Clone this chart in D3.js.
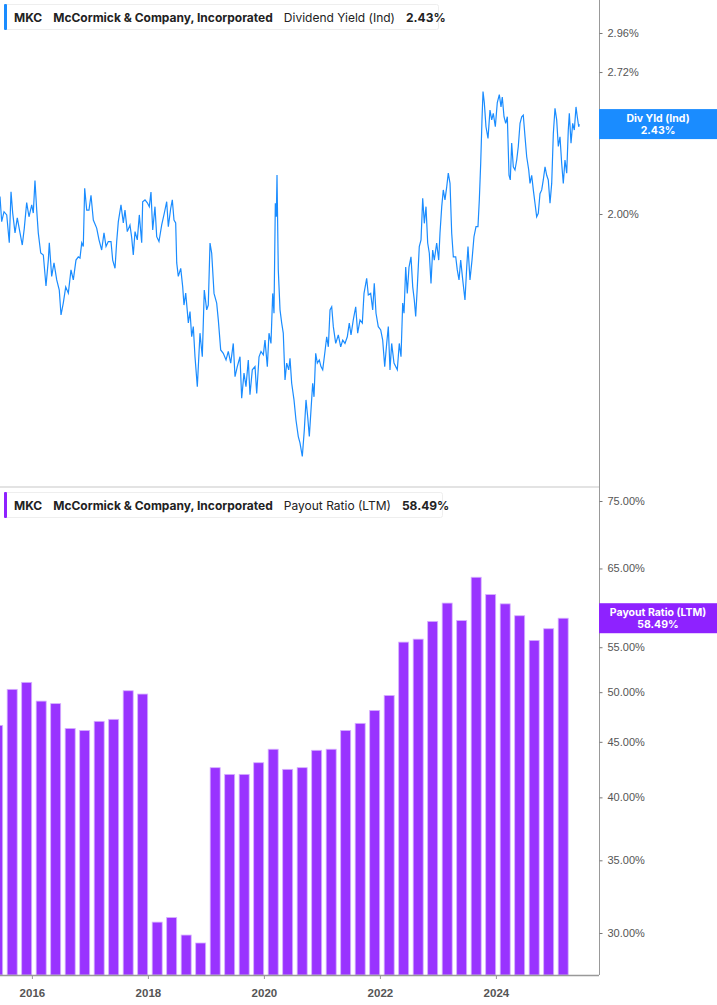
<!DOCTYPE html>
<html><head><meta charset="utf-8">
<script src="https://cdn.jsdelivr.net/npm/d3@7"></script>
<style>body{margin:0;background:#fff}svg{display:block;font-family:Inter,"Noto Sans",sans-serif}</style>
</head><body><svg id="c" width="717" height="1005"></svg>
<script>
const yieldDates=[2015.450,2015.479,2015.519,2015.566,2015.610,2015.640,2015.669,2015.709,2015.748,2015.795,2015.834,2015.869,2015.910,2015.950,2015.997,2016.024,2016.053,2016.083,2016.110,2016.152,2016.197,2016.243,2016.283,2016.300,2016.341,2016.381,2016.428,2016.472,2016.502,2016.541,2016.583,2016.628,2016.674,2016.714,2016.760,2016.800,2016.829,2016.859,2016.886,2016.910,2016.945,2016.984,2017.019,2017.059,2017.117,2017.157,2017.203,2017.243,2017.278,2017.317,2017.364,2017.393,2017.433,2017.462,2017.490,2017.536,2017.576,2017.605,2017.645,2017.691,2017.721,2017.748,2017.778,2017.817,2017.852,2017.893,2017.910,2017.950,2017.990,2018.024,2018.053,2018.083,2018.122,2018.152,2018.191,2018.238,2018.283,2018.324,2018.352,2018.393,2018.421,2018.450,2018.479,2018.497,2018.524,2018.566,2018.600,2018.622,2018.652,2018.697,2018.726,2018.755,2018.783,2018.812,2018.852,2018.898,2018.938,2018.972,2019.014,2019.041,2019.071,2019.100,2019.140,2019.186,2019.214,2019.255,2019.300,2019.347,2019.386,2019.428,2019.472,2019.502,2019.541,2019.588,2019.617,2019.657,2019.691,2019.731,2019.760,2019.800,2019.847,2019.876,2019.916,2019.950,2019.990,2020.019,2020.059,2020.088,2020.122,2020.152,2020.174,2020.197,2020.214,2020.226,2020.248,2020.278,2020.307,2020.334,2020.364,2020.393,2020.428,2020.450,2020.479,2020.519,2020.553,2020.593,2020.622,2020.662,2020.697,2020.726,2020.755,2020.783,2020.812,2020.841,2020.864,2020.893,2020.921,2020.955,2020.984,2021.014,2021.053,2021.083,2021.111,2021.140,2021.169,2021.197,2021.238,2021.283,2021.324,2021.359,2021.398,2021.438,2021.472,2021.502,2021.541,2021.583,2021.617,2021.657,2021.697,2021.726,2021.772,2021.800,2021.841,2021.876,2021.903,2021.933,2021.972,2022.014,2022.048,2022.083,2022.117,2022.145,2022.174,2022.203,2022.243,2022.300,2022.334,2022.364,2022.393,2022.416,2022.445,2022.472,2022.502,2022.536,2022.566,2022.593,2022.617,2022.645,2022.679,2022.709,2022.738,2022.766,2022.795,2022.824,2022.852,2022.881,2022.910,2022.938,2022.979,2023.014,2023.036,2023.066,2023.093,2023.122,2023.152,2023.179,2023.209,2023.238,2023.266,2023.307,2023.334,2023.364,2023.393,2023.428,2023.467,2023.497,2023.519,2023.553,2023.588,2023.622,2023.657,2023.691,2023.714,2023.738,2023.760,2023.778,2023.800,2023.829,2023.864,2023.898,2023.928,2023.955,2023.990,2024.024,2024.059,2024.088,2024.110,2024.140,2024.169,2024.197,2024.226,2024.248,2024.272,2024.300,2024.329,2024.359,2024.386,2024.416,2024.445,2024.472,2024.502,2024.531,2024.566,2024.588,2024.617,2024.645,2024.674,2024.703,2024.731,2024.760,2024.790,2024.817,2024.847,2024.876,2024.903,2024.933,2024.962,2024.990,2025.019,2025.048,2025.076,2025.105,2025.134,2025.162,2025.191,2025.221,2025.248,2025.266,2025.295,2025.324,2025.352,2025.381,2025.403,2025.428,2025.438];
const yieldValues=[2.077,1.967,2.010,1.996,1.879,2.099,2.004,1.920,1.983,1.920,1.870,1.940,2.050,1.988,2.040,2.004,2.150,2.017,1.920,1.838,1.830,1.711,1.810,1.879,1.747,1.799,1.734,1.696,1.607,1.649,1.708,1.685,1.772,1.734,1.810,1.823,1.818,1.879,1.864,2.115,2.017,2.017,2.083,1.974,1.940,1.891,1.850,1.920,1.864,1.884,1.884,1.810,1.778,1.884,1.967,2.040,1.962,2.017,1.925,1.953,1.899,1.830,1.925,1.891,1.996,1.879,2.054,2.062,2.049,2.032,2.097,1.932,2.032,1.904,1.884,1.953,2.004,2.054,1.946,2.024,2.062,1.974,1.962,1.799,1.747,1.778,1.708,1.642,1.685,1.580,1.619,1.533,1.567,1.468,1.376,1.545,1.468,1.696,1.625,1.642,1.878,1.837,1.684,1.649,1.590,1.490,1.479,1.458,1.485,1.448,1.511,1.406,1.437,1.468,1.342,1.417,1.376,1.458,1.352,1.427,1.437,1.356,1.468,1.485,1.474,1.522,1.437,1.545,1.511,1.684,1.613,2.047,1.988,2.176,1.772,1.625,1.579,1.545,1.396,1.448,1.427,1.463,1.386,1.337,1.280,1.235,1.218,1.183,1.253,1.337,1.289,1.235,1.308,1.386,1.346,1.479,1.448,1.458,1.437,1.427,1.485,1.533,1.500,1.625,1.636,1.567,1.511,1.539,1.500,1.522,1.511,1.533,1.579,1.539,1.590,1.636,1.545,1.590,1.579,1.684,1.740,1.678,1.684,1.625,1.721,1.613,1.567,1.556,1.522,1.437,1.511,1.567,1.427,1.511,1.448,1.427,1.511,1.468,1.649,1.613,1.783,1.684,1.783,1.823,1.708,1.660,1.602,1.708,1.864,1.891,2.069,1.960,2.032,1.878,1.837,1.721,1.850,1.810,1.878,1.810,1.918,2.032,2.107,2.062,2.121,2.185,2.137,1.918,1.823,1.823,1.772,1.734,1.810,1.734,1.660,1.783,1.864,1.734,1.810,1.904,1.946,1.946,2.062,2.232,2.452,2.608,2.546,2.416,2.356,2.505,2.452,2.487,2.416,2.546,2.590,2.522,2.577,2.469,2.434,2.469,2.175,2.153,2.332,2.215,2.200,2.248,2.315,2.434,2.469,2.478,2.364,2.264,2.200,2.137,2.175,2.107,2.047,1.988,2.003,2.090,2.107,2.153,2.215,2.175,2.153,2.047,2.137,2.380,2.515,2.452,2.315,2.364,2.232,2.137,2.248,2.185,2.399,2.487,2.332,2.434,2.399,2.522,2.469,2.416,2.43];
// fiscal quarter ends (Feb/May/Aug/Nov)
const payoutDates=d3.range(40).map(i=>2015.41+0.25*i);
const payoutValues=[46.6,50.3,51.05,49.06,48.8,46.3,46.1,47.0,47.2,50.15,49.8,30.7,31.0,29.87,29.37,42.6,42.0,42.0,43.05,44.3,42.45,42.6,44.2,44.3,46.1,46.8,48.1,49.65,55.6,55.95,58.1,60.4,58.2,63.8,61.5,60.3,58.8,55.8,57.2,58.49];
const yieldTicks=[2.00,2.72,2.96];
const payoutTicks=[30,35,40,45,50,55,65,75];
const yearTicks=[2016,2018,2020,2022,2024];

const svg=d3.select('#c');
const W=599;
const x=d3.scaleLinear().domain([2015.45,2015.45+599/58]).range([0,W]);
const yTop=d3.scaleLog().domain([2.0,2.96]).range([214,33]);
const yBot=d3.scaleLog().domain([30,75]).range([933,501]);
const blue='#1a8cff', purple='#9933ff';

// bars
svg.append('g').selectAll('rect').data(payoutDates.map((d,i)=>[d,payoutValues[i]])).join('rect')
 .attr('x',d=>x(d[0])-5).attr('width',10)
 .attr('y',d=>yBot(d[1])).attr('height',d=>975-yBot(d[1]))
 .attr('fill',purple).attr('stroke','#d6b0ff').attr('stroke-width',0.8);
svg.append('rect').attr('x',-20).attr('y',470).attr('width',20).attr('height',20).attr('fill','none');

// line
svg.append('path').datum(yieldDates.map((d,i)=>[d,yieldValues[i]]))
 .attr('d',d3.line().x(d=>x(d[0])).y(d=>yTop(d[1])))
 .attr('fill','none').attr('stroke',blue).attr('stroke-width',1.2);

// separator and axes
svg.append('rect').attr('x',0).attr('y',486).attr('width',W).attr('height',2).attr('fill','#e3e3e3');
svg.append('line').attr('x1',W+0.5).attr('x2',W+0.5).attr('y1',0).attr('y2',975).attr('stroke','#999');
const ra1=svg.append('g').attr('transform',`translate(${W+0.5},0)`).call(d3.axisRight(yTop).tickValues(yieldTicks).tickSize(3).tickFormat(d=>d.toFixed(2)+'%'));
const ra2=svg.append('g').attr('transform',`translate(${W+0.5},0)`).call(d3.axisRight(yBot).tickValues(payoutTicks).tickSize(3).tickFormat(d=>d.toFixed(2)+'%'));
const bx=svg.append('g').attr('transform','translate(0,975)').call(d3.axisBottom(x).tickValues(yearTicks).tickSize(4).tickFormat(d3.format('d')));
bx.select('.domain').attr('d',`M0,0.5H${W}`).attr('stroke','#999').attr('stroke-width',1.5);
[ra1,ra2].forEach(g=>{g.select('.domain').remove();g.selectAll('line').attr('stroke','#777');
 g.selectAll('text').attr('x',8).attr('fill','#555').attr('font-size',11);});
bx.selectAll('line').attr('stroke','#999');
bx.selectAll('text').attr('fill','#555').attr('font-size',11.5).attr('font-weight',600).attr('dy','1.3em');

// value tags
function tag(y,col,l1,l2){
 svg.append('rect').attr('x',W).attr('y',y).attr('width',118).attr('height',30).attr('fill',col);
 svg.append('text').attr('x',658).attr('y',y+13).attr('text-anchor','middle').attr('fill','#fff').attr('font-size',10.5).attr('font-weight',700).text(l1);
 svg.append('text').attr('x',658).attr('y',y+25).attr('text-anchor','middle').attr('fill','#fff').attr('font-size',10.5).attr('font-weight',700).text(l2);
}
tag(yTop(2.43)-15,blue,'Div Yld (Ind)','2.43%');
tag(yBot(58.49)-15,'#8e22ff','Payout Ratio (LTM)','58.49%');

// legends
function legend(y,w,col,metric,val){
 const g=svg.append('g').attr('transform',`translate(4,${y})`);
 g.append('rect').attr('x',0.5).attr('y',0.5).attr('width',w).attr('height',25).attr('rx',2).attr('fill','#fff').attr('stroke','#eee');
 g.append('rect').attr('x',0).attr('y',0).attr('width',3).attr('height',26).attr('rx',1).attr('fill',col);
 const t=g.append('text').attr('x',10).attr('y',17.5).attr('font-size',12).attr('fill','#222');
 t.append('tspan').attr('font-weight',700).text('MKC');
 t.append('tspan').attr('dx',11).attr('font-weight',700).text('McCormick & Company, Incorporated');
 t.append('tspan').attr('dx',11).attr('font-weight',400).text(metric);
 t.append('tspan').attr('dx',11).attr('font-weight',700).text(val);
}
legend(4,434,blue,'Dividend Yield (Ind)','2.43%');
legend(492,438,'#8e22ff','Payout Ratio (LTM)','58.49%');
</script></body></html>
